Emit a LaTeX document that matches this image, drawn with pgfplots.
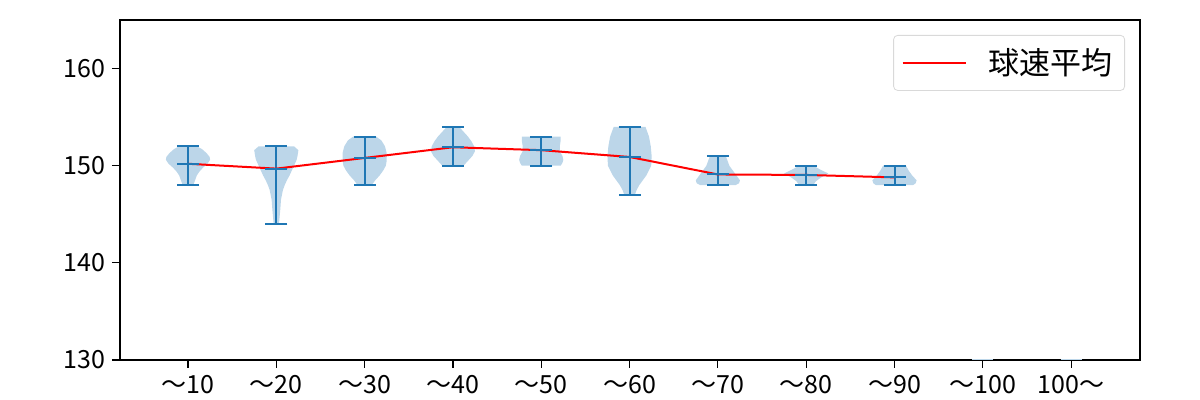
\documentclass[border=0pt]{standalone}
\usepackage{fontspec}
\setmainfont{Noto Sans CJK JP}
\usepackage{pgfplots}
\pgfplotsset{compat=1.18}
\usepackage{pgfplotstable}
\usepgfplotslibrary{fillbetween}
\definecolor{mblue}{HTML}{1F77B4}
\definecolor{vfillc}{RGB}{188,214,233}

\pgfplotstableread{
y w
148.0 0.06
148.5 0.08
149.0 0.10
149.4 0.13
149.8 0.17
150.2 0.22
150.6 0.25
150.9 0.245
151.3 0.21
151.7 0.16
152.0 0.10
}\vA
\pgfplotstableread{
y w
144.0 0.03
144.5 0.035
145.5 0.045
146.5 0.053
147.5 0.075
148.0 0.095
148.5 0.12
149.0 0.15
149.6 0.18
150.0 0.20
150.6 0.23
151.0 0.24
151.6 0.25
152.0 0.20
}\vB
\pgfplotstableread{
y w
148.0 0.08
148.5 0.12
149.0 0.17
149.5 0.21
150.0 0.24
150.5 0.25
151.3 0.25
152.0 0.23
152.6 0.19
153.0 0.13
}\vC
\pgfplotstableread{
y w
150.0 0.12
150.5 0.17
151.0 0.22
151.5 0.25
152.0 0.24
152.5 0.21
153.0 0.17
153.5 0.12
154.0 0.07
}\vD
\pgfplotstableread{
y w
150.0 0.22
150.3 0.24
150.6 0.25
151.0 0.24
151.5 0.21
152.0 0.21
152.6 0.22
153.0 0.22
}\vE
\pgfplotstableread{
y w
147.0 0.06
147.5 0.08
148.0 0.11
148.5 0.15
149.0 0.19
150.0 0.245
151.0 0.25
152.0 0.24
153.0 0.22
154.0 0.18
}\vF
\pgfplotstableread{
y w
148.0 0.20
148.2 0.24
148.5 0.25
149.0 0.21
149.5 0.17
150.0 0.13
150.5 0.11
151.0 0.09
}\vG
\pgfplotstableread{
y w
148.0 0.08
148.4 0.11
148.8 0.17
149.2 0.25
149.6 0.16
150.0 0.08
}\vH
\pgfplotstableread{
y w
148.0 0.21
148.2 0.24
148.5 0.25
149.0 0.20
149.5 0.16
150.0 0.13
}\vI
\pgfplotstableread{
pos mid err mean
1 150 2 150.2
2 148 4 149.7
3 150.5 2.5 150.8
4 152 2 151.9
5 151.5 1.5 151.6
6 150.5 3.5 150.9
7 149.5 1.5 149.1
8 149 1 149.05
9 149 1 148.8
}\stats

\newcommand{\violin}[2]{%
\addplot[draw=none, name path=R#1, forget plot] table[x expr={#1+\thisrow{w}}, y=y] {#2};
\addplot[draw=none, name path=L#1, forget plot] table[x expr={#1-\thisrow{w}}, y=y] {#2};
\addplot[fill=vfillc, draw=none, forget plot] fill between[of=R#1 and L#1, reverse=true];
}

\begin{document}
\begin{tikzpicture}
\begin{axis}[
  at={(0,0)}, anchor=south west,
  scale only axis, width=510bp, height=170bp,
  xmin=0.23, xmax=11.78, ymin=130, ymax=165,
  xtick={1,...,11},
  xticklabels={～10,～20,～30,～40,～50,～60,～70,～80,～90,～100,100～},
  ytick={130,140,150,160},
  tick align=outside,
  xtick pos=bottom, ytick pos=left,
  major tick length=4bp,
  tick style={black, line width=0.6bp},
  axis line style={line width=0.6bp},
  ticklabel style={font=\fontsize{12.5bp}{14bp}\selectfont},
  /pgf/number format/assume math mode=true,
  legend style={at={(1,1)}, xshift=-7.5bp, yshift=-7.5bp, anchor=north east,
    draw=black!15, rounded corners=2bp, font=\fontsize{15.5bp}{17bp}\selectfont,
    inner xsep=4bp, inner ysep=4.5bp},
  legend cell align=left,
  legend image code/.code={\draw[#1] (0bp,0bp) -- (31.5bp,0bp);},
]
\violin{1}{\vA}
\violin{2}{\vB}
\violin{3}{\vC}
\violin{4}{\vD}
\violin{5}{\vE}
\violin{6}{\vF}
\violin{7}{\vG}
\violin{8}{\vH}
\violin{9}{\vI}
\addplot[vfillc, line width=1bp, forget plot] coordinates {(9.88,130) (10.12,130)};
\addplot[vfillc, line width=1bp, forget plot] coordinates {(10.88,130) (11.12,130)};
\addplot[draw=none, mark=none, forget plot,
  error bars/.cd, y dir=both, y explicit,
  error bar style={mblue, line width=1bp},
  error mark options={mblue, rotate=90, mark size=5.5bp, line width=1bp}]
  table[x=pos, y=mid, y error=err] {\stats};
\addplot[only marks, mark=-, mark size=5.5bp, mark options={mblue, line width=1bp}, forget plot]
  table[x=pos, y=mean] {\stats};
\addplot[red, line width=1bp] table[x=pos, y=mean] {\stats};
\addlegendentry{\hspace{9bp}球速平均}
\end{axis}
\pgfresetboundingbox
\path[use as bounding box] (-60bp,-20bp) rectangle (540bp,180bp);
\end{tikzpicture}
\end{document}
